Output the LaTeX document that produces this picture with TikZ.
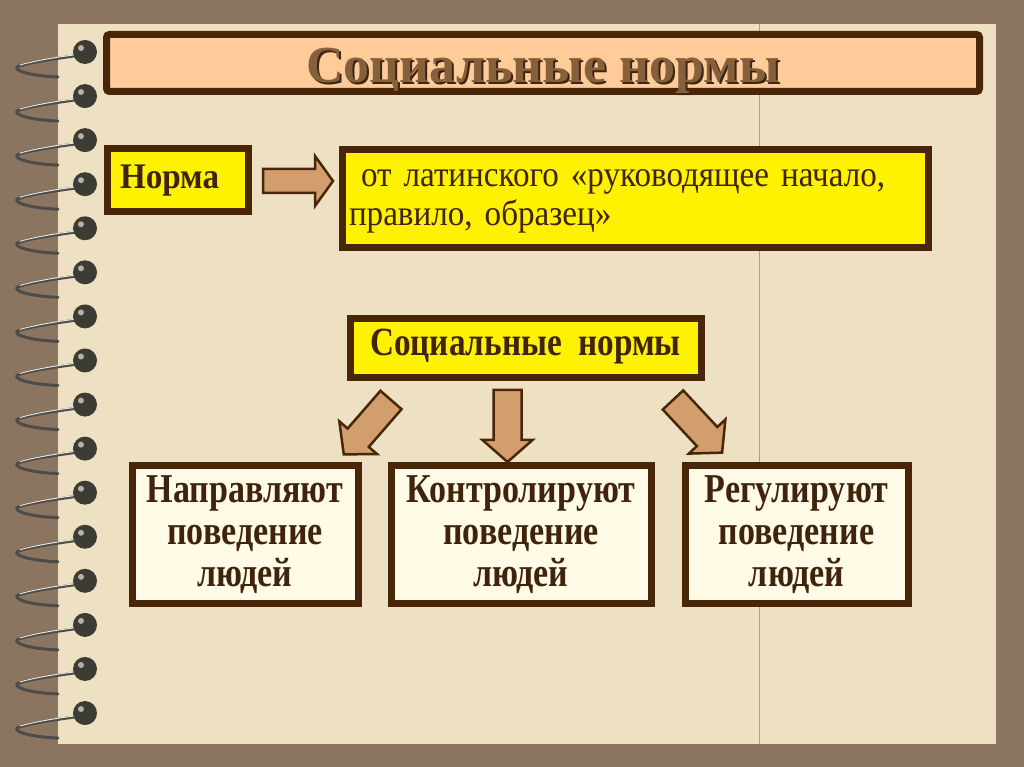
\documentclass[tikz,border=0pt]{standalone}
\usepackage{fontspec}
\setmainfont{Liberation Serif}
\newfontfamily\narrowserif[FakeStretch=0.83]{Liberation Serif}
\newfontfamily\slimserif[FakeStretch=0.92]{Liberation Serif}
\usetikzlibrary{positioning}

\definecolor{frame}{HTML}{8C7560}
\definecolor{paper}{HTML}{EEE1C3}
\definecolor{rim}{HTML}{4A2608}
\definecolor{peach}{HTML}{FFCC99}
\definecolor{tan}{HTML}{D29E6E}
\definecolor{cream}{HTML}{FFFBE6}
\definecolor{ink}{HTML}{3F230C}
\definecolor{titlebrown}{HTML}{85603A}
\definecolor{titleshade}{HTML}{3A2614}
\definecolor{wire}{HTML}{4E4C48}
\definecolor{ball}{HTML}{3C3C34}

% invisible struts that fix the top and bottom of a text block
\newcommand{\topstrut}[1]{\rule{0pt}{#1}}
\newcommand{\botstrut}[1]{\rule[-#1]{0pt}{#1}}

\tikzset{
  box/.style={draw=rim, line width=7pt, inner sep=0pt, text=ink},
  yellowbox/.style={box, fill=yellow},
  actbox/.style={box, fill=cream, minimum height=138, align=center,
    font=\narrowserif\bfseries\fontsize{41}{42}\selectfont},
  blockarrow/.style={draw=rim, line width=2.5pt, fill=tan, line join=miter},
}

\begin{document}
\begin{tikzpicture}[x=1pt,y=1pt]
  \useasboundingbox (0,0) rectangle (1024,767);
  % frame and page
  \fill[frame] (0,0) rectangle (1024,767);
  \fill[paper] (58,23) rectangle (996,743);
  \draw[frame!70, line width=0.8pt] (759,23) -- (759,743);

  % spiral binding
  \foreach \i [evaluate=\i as \yy using 715-44.07*\i] in {0,...,15} {
    \draw[wire, line width=3pt, line cap=round]
      (74,\yy-4) .. controls (45,\yy-8) and (22,\yy-12) .. (17,\yy-15)
      .. controls (14,\yy-19) and (32,\yy-24) .. (58,\yy-25);
    \draw[white!85!wire, line width=1pt, line cap=round]
      (74,\yy-3) .. controls (50,\yy-6) and (30,\yy-10) .. (20,\yy-13);
    \fill[ball] (85,\yy) circle (12);
    \fill[white!60!ball] (81,\yy+4) circle (3);
  }

  % title
  \node[box, fill=peach, rounded corners=3pt, minimum width=873, minimum height=57]
    (title) at (543,704) {};
  \node[anchor=base, text=titleshade, font=\bfseries\fontsize{52}{60}\selectfont]
    at (545,682) {Социальные нормы};
  \node[anchor=base, text=titlebrown, font=\bfseries\fontsize{52}{60}\selectfont]
    (titletext) at (543,684) {Социальные нормы};

  % definition
  \node[yellowbox, minimum width=141, minimum height=63, text width=115,
    inner xsep=13, align=left, font=\slimserif\bfseries\fontsize{36}{40}\selectfont]
    (norm) at (177.5,586.5) {Норма};
  \node[yellowbox, minimum width=586, minimum height=98, text width=572,
    inner xsep=7, align=left, font=\slimserif\fontsize{36}{39}\selectfont]
    (latin) at (635,568)
    {\topstrut{25pt}\ от латинского «руководящее начало,\\правило, образец»\botstrut{10pt}};
  \draw[blockarrow, shift={(263,586)}]
    (0,12) -- (52,12) -- (52,25) -- (70,0) -- (52,-25) -- (52,-12) -- (0,-12) -- cycle;

  % social norms
  \node[yellowbox, minimum width=351, minimum height=59,
    font=\narrowserif\bfseries\fontsize{40}{42}\selectfont]
    (social) at (525.5,418.5) {Социальные\ \ нормы\botstrut{13pt}};

  \foreach \x/\y/\a in {391/367/229, 507.5/377/-90, 673/367/-47}
    \draw[blockarrow, shift={(\x,\y)}, rotate=\a]
      (0,14) -- (50,14) -- (50,25) -- (72,0) -- (50,-25) -- (50,-14) -- (0,-14) -- cycle;

  % functions
  \node[actbox, minimum width=226] (guide) at (245,232)
    {\topstrut{30pt}Направляют\\поведение\\людей\botstrut{10pt}};
  \node[actbox, minimum width=260] (control) at (521,232)
    {\topstrut{30pt}Контролируют\\поведение\\людей\botstrut{10pt}};
  \node[actbox, minimum width=223] (regulate) at (796.5,232)
    {\topstrut{30pt}Регулируют\\поведение\\людей\botstrut{10pt}};
\end{tikzpicture}
\end{document}
